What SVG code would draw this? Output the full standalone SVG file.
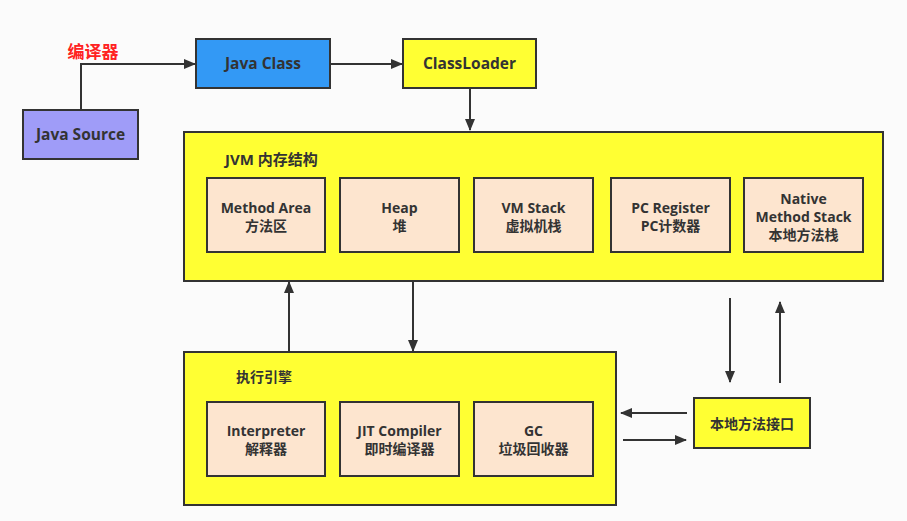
<svg xmlns="http://www.w3.org/2000/svg" width="907" height="521" viewBox="0 0 907 521">
<defs>
<marker id="ah" markerWidth="12" markerHeight="10" refX="11" refY="5" orient="auto" markerUnits="userSpaceOnUse">
<path d="M0,0 L12,5 L0,10 Z" fill="#333"/>
</marker>
<style>
.b{stroke:#333;stroke-width:2}
.y{fill:#ffff33}
.p{fill:#fde5cf}
.t{font-family:"Open Sans","Noto Sans CJK SC",sans-serif;font-weight:bold;fill:#333;text-anchor:middle}
.s{font-size:14px}
.m{font-size:15.5px}
.c{fill:none;stroke:#333;stroke-width:2;marker-end:url(#ah)}
</style>
</defs>
<rect width="907" height="521" fill="#fbfbfb"/>
<g id="connectors">
<path class="c" d="M81,110 V64 H195"/>
<path class="c" d="M331,64 H402"/>
<path class="c" d="M470,89 V130"/>
<path class="c" d="M289,352 V282"/>
<path class="c" d="M413,282 V351"/>
<path class="c" d="M730,298 V382"/>
<path class="c" d="M780,383 V302"/>
<path class="c" d="M687,413 H621"/>
<path class="c" d="M623,440 H686"/>
</g>
<g id="compiler-label"><text x="93" y="58" style="font-family:'Noto Sans CJK SC',sans-serif;font-weight:bold;font-size:17px;fill:#ff2222;text-anchor:middle">编译器</text></g>
<g id="java-source"><rect class="b" x="23" y="110" width="115" height="49" fill="#9f9cf8"/><text class="t m" x="80.5" y="140">Java Source</text></g>
<g id="java-class"><rect class="b" x="196" y="39" width="134" height="49" fill="#3399f5"/><text class="t m" x="263" y="69">Java Class</text></g>
<g id="classloader"><rect class="b y" x="403" y="39" width="133" height="49"/><text class="t m" x="469.5" y="69">ClassLoader</text></g>
<g id="jvm"><rect class="b y" x="184" y="132" width="699" height="149"/><text class="t" x="225" y="165" style="text-anchor:start;font-size:15px">JVM 内存结构</text></g>
<g id="method-area"><rect class="b p" x="207" y="178" width="118" height="74"/><text class="t s" x="266" y="213">Method Area</text><text class="t s" x="266" y="231">方法区</text></g>
<g id="heap"><rect class="b p" x="340" y="178" width="119" height="74"/><text class="t s" x="399.5" y="213">Heap</text><text class="t s" x="399.5" y="231">堆</text></g>
<g id="vm-stack"><rect class="b p" x="474" y="178" width="119" height="74"/><text class="t s" x="533.5" y="213">VM Stack</text><text class="t s" x="533.5" y="231">虚拟机栈</text></g>
<g id="pc-register"><rect class="b p" x="611" y="178" width="119" height="74"/><text class="t s" x="670.5" y="213">PC Register</text><text class="t s" x="670.5" y="231">PC计数器</text></g>
<g id="native-stack"><rect class="b p" x="744" y="178" width="119" height="74"/><text class="t s" x="803.5" y="204">Native</text><text class="t s" x="803.5" y="222">Method Stack</text><text class="t s" x="803.5" y="240">本地方法栈</text></g>
<g id="exec-engine"><rect class="b y" x="184" y="352" width="432" height="153"/><text class="t s" x="236" y="382" style="text-anchor:start">执行引擎</text></g>
<g id="interpreter"><rect class="b p" x="207" y="402" width="118" height="74"/><text class="t s" x="266" y="436">Interpreter</text><text class="t s" x="266" y="454">解释器</text></g>
<g id="jit"><rect class="b p" x="340" y="402" width="119" height="74"/><text class="t s" x="399.5" y="436">JIT Compiler</text><text class="t s" x="399.5" y="454">即时编译器</text></g>
<g id="gc"><rect class="b p" x="474" y="402" width="119" height="74"/><text class="t s" x="533.5" y="436">GC</text><text class="t s" x="533.5" y="454">垃圾回收器</text></g>
<g id="native-interface"><rect class="b y" x="694" y="398" width="116" height="50"/><text class="t s" x="752" y="429">本地方法接口</text></g>
</svg>
